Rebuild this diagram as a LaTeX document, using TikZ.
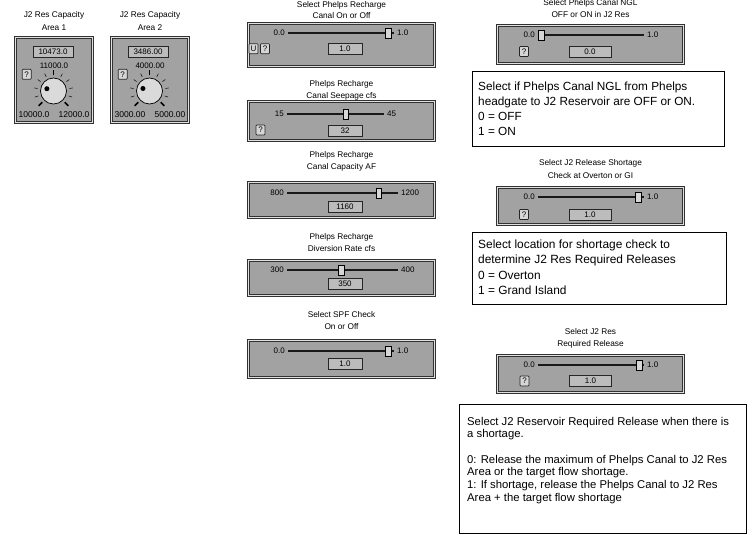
\documentclass[tikz,border=0pt]{standalone}
\usepackage{fontspec}
\setmainfont{Liberation Sans}
\usetikzlibrary{positioning,calc}
\definecolor{panelgray}{RGB}{162,162,162}
\definecolor{panelrim}{RGB}{50,50,50}
\definecolor{panellight}{RGB}{224,224,224}
\definecolor{valfill}{RGB}{188,188,188}
\definecolor{btnfill}{RGB}{214,214,214}
\definecolor{knobfill}{RGB}{218,218,218}

\begin{document}
\begin{tikzpicture}[x=1pt,y=-1pt]

    \tikzset{
      panel/.style={
        draw=panelrim,
        double=panellight,
        double distance=1.5pt,
        line width=0.8pt,
        fill=panelgray,
        inner sep=0pt,
        minimum width=186pt,
      },
      title/.style={font=\fontsize{8.3}{10}\selectfont, inner sep=0pt},
      lbl/.style={font=\fontsize{8}{10}\selectfont, inner xsep=3pt, inner ysep=0pt},
      valbox/.style={draw=black!85, line width=0.8pt, fill=valfill, minimum height=11pt, inner sep=0pt, font=\fontsize{8}{10}\selectfont},
      btn/.style={draw=black!85, line width=0.7pt, fill=btnfill, minimum width=9pt, minimum height=10pt, inner sep=0pt, rounded corners=0.8pt, font=\fontsize{8}{10}\selectfont},
      thumb/.style={draw=black, line width=0.6pt, fill=btnfill, minimum width=5.5pt, minimum height=10pt, inner sep=0pt},
      track/.style={line width=2pt, black!90},
      knob/.style={circle, draw=black, line width=0.7pt, fill=knobfill, minimum size=26pt, inner sep=0pt},
      knobdot/.style={circle, fill=black, minimum size=5pt, inner sep=0pt},
      tick/.style={line width=0.5pt},
      bigtick/.style={line width=1.6pt},
      textbox/.style={draw=black, line width=0.8pt, fill=white, inner sep=0pt, anchor=north west},
      boxtext/.style={align=left, inner sep=0pt, anchor=north west},
    }
    \fill[white] (0,0) rectangle (752,535);
    \useasboundingbox (0,0) rectangle (752,535);

	\node[title] (k1t1) at (54,15) {J2 Res Capacity};
	\node[title] (k1t2) at (54,28) {Area 1};
	\node[panel, minimum width=77pt, minimum height=85pt] (k1) at (54,80) {};
	\node[valbox, minimum width=40pt] (k1val) at (53,51.5) {10473.0};
	\node[lbl] (k1mid) at (54,66) {11000.0};
	\node[btn] (k1help) at (26.7,74.3) {?};
	\node[knob] (k1knob) at (53.5,91) {};
	\foreach \i [evaluate=\i as \a using -225+27*\i] in {0,...,10}
	  \draw[tick] ($(k1knob)+(\a:16)$) -- ($(k1knob)+(\a:19.5)$);
	\foreach \a in {-225,-90,45}
	  \draw[bigtick] ($(k1knob)+(\a:16)$) -- ($(k1knob)+(\a:21)$);
	\node[knobdot] (k1dot) at ($(k1knob)+(-161:7)$) {};
	\node[lbl, font=\fontsize{8.5}{10}\selectfont, inner xsep=0pt] (k1lo) at (34,114.5) {10000.0};
	\node[lbl, font=\fontsize{8.5}{10}\selectfont, inner xsep=0pt] (k1hi) at (74,114.5) {12000.0};

	\node[title] (k2t1) at (150,15) {J2 Res Capacity};
	\node[title] (k2t2) at (150,28) {Area 2};
	\node[panel, minimum width=77pt, minimum height=85pt] (k2) at (150,80) {};
	\node[valbox, minimum width=40pt] (k2val) at (148,51.5) {3486.00};
	\node[lbl] (k2mid) at (150,66) {4000.00};
	\node[btn] (k2help) at (122.7,74.3) {?};
	\node[knob] (k2knob) at (149.5,91) {};
	\foreach \i [evaluate=\i as \a using -225+27*\i] in {0,...,10}
	  \draw[tick] ($(k2knob)+(\a:16)$) -- ($(k2knob)+(\a:19.5)$);
	\foreach \a in {-225,-90,45}
	  \draw[bigtick] ($(k2knob)+(\a:16)$) -- ($(k2knob)+(\a:21)$);
	\node[knobdot] (k2dot) at ($(k2knob)+(-159:7)$) {};
	\node[lbl, font=\fontsize{8.5}{10}\selectfont, inner xsep=0pt] (k2lo) at (130,114.5) {3000.00};
	\node[lbl, font=\fontsize{8.5}{10}\selectfont, inner xsep=0pt] (k2hi) at (170,114.5) {5000.00};

	\node[title] (p1t1) at (341.5,5) {Select Phelps Recharge};
	\node[title] (p1t2) at (341.5,15.5) {Canal On or Off};
	\node[panel, minimum height=43pt] (p1) at (341.5,45) {};
	\node[lbl, anchor=east] (p1lo) at (288,33) {0.0};
	\node[lbl, anchor=west] (p1hi) at (394,33) {1.0};
	\draw[track] (p1lo) -- (p1hi);
	\node[thumb] (p1thumb) at (388.5,33) {};
	\node[btn] (p1u) at (253.5,48.7) {U};
	\node[btn] (p1help) at (265,48.7) {?};
	\node[valbox, minimum width=34pt] (p1val) at (345,49) {1.0};

	\node[title] (p2t1) at (341.5,84) {Phelps Recharge};
	\node[title] (p2t2) at (341.5,96) {Canal Seepage cfs};
	\node[panel, minimum height=39pt] (p2) at (341.5,121) {};
	\node[lbl, anchor=east] (p2lo) at (287,114) {15};
	\node[lbl, anchor=west] (p2hi) at (384,114) {45};
	\draw[track] (p2lo) -- (p2hi);
	\node[thumb] (p2thumb) at (346,114) {};
	\node[btn] (p2help) at (260.5,130) {?};
	\node[valbox, minimum width=34pt] (p2val) at (345,130.5) {32};

	\node[title] (p3t1) at (341.5,155) {Phelps Recharge};
	\node[title] (p3t2) at (341.5,167) {Canal Capacity AF};
	\node[panel, minimum height=35pt] (p3) at (341.5,200) {};
	\node[lbl, anchor=east] (p3lo) at (287,193) {800};
	\node[lbl, anchor=west] (p3hi) at (398,193) {1200};
	\draw[track] (p3lo) -- (p3hi);
	\node[thumb] (p3thumb) at (379,193) {};
	\node[valbox, minimum width=34pt] (p3val) at (345,206.5) {1160};

	\node[title] (p4t1) at (341.5,237) {Phelps Recharge};
	\node[title] (p4t2) at (341.5,249) {Diversion Rate cfs};
	\node[panel, minimum height=35pt] (p4) at (341.5,278) {};
	\node[lbl, anchor=east] (p4lo) at (287,270) {300};
	\node[lbl, anchor=west] (p4hi) at (398,270) {400};
	\draw[track] (p4lo) -- (p4hi);
	\node[thumb] (p4thumb) at (341.5,270) {};
	\node[valbox, minimum width=34pt] (p4val) at (345,283.5) {350};

	\node[title] (p5t1) at (341.5,315) {Select SPF Check};
	\node[title] (p5t2) at (341.5,327) {On or Off};
	\node[panel, minimum height=37pt] (p5) at (341.5,359) {};
	\node[lbl, anchor=east] (p5lo) at (288,351) {0.0};
	\node[lbl, anchor=west] (p5hi) at (394,351) {1.0};
	\draw[track] (p5lo) -- (p5hi);
	\node[thumb] (p5thumb) at (388.5,351) {};
	\node[valbox, minimum width=34pt] (p5val) at (345,363.5) {1.0};

	\node[title] (r1t1) at (590.5,3.5) {Select Phelps Canal NGL};
	\node[title] (r1t2) at (590.5,15) {OFF or ON in J2 Res};
	\node[panel, minimum height=38pt] (r1) at (590.5,44.5) {};
	\node[lbl, anchor=east] (r1lo) at (538,35) {0.0};
	\node[lbl, anchor=west] (r1hi) at (644,35) {1.0};
	\draw[track] (r1lo) -- (r1hi);
	\node[thumb] (r1thumb) at (541.5,35) {};
	\node[btn] (r1help) at (524,51.5) {?};
	\node[valbox, minimum width=42pt] (r1val) at (590,51.5) {0.0};

	\node[textbox, minimum width=252pt, minimum height=74pt] (ngl) at (471.5,71.5) {};
	\node[boxtext, font=\fontsize{11.8}{15}\selectfont] (ngltext) at (478,81.7) {Select if Phelps Canal NGL from Phelps\\headgate to J2 Reservoir are OFF or ON.\\0 = OFF\\1 = ON};

	\node[title] (r2t1) at (590.5,163) {Select J2 Release Shortage};
	\node[title] (r2t2) at (590.5,176) {Check at Overton or GI};
	\node[panel, minimum height=37pt] (r2) at (590.5,206) {};
	\node[lbl, anchor=east] (r2lo) at (538,197) {0.0};
	\node[lbl, anchor=west] (r2hi) at (644,197) {1.0};
	\draw[track] (r2lo) -- (r2hi);
	\node[thumb] (r2thumb) at (638.5,197) {};
	\node[btn] (r2help) at (524,214.5) {?};
	\node[valbox, minimum width=42pt] (r2val) at (590,214.5) {1.0};

	\node[textbox, minimum width=254pt, minimum height=72pt] (chk) at (471.5,231.5) {};
	\node[boxtext, font=\fontsize{11.9}{15.3}\selectfont] (chktext) at (478,239.7) {Select location for shortage check to\\determine J2 Res Required Releases\\0 = Overton\\1 = Grand Island};

	\node[title] (r3t1) at (590.5,332) {Select J2 Res};
	\node[title] (r3t2) at (590.5,344) {Required Release};
	\node[panel, minimum height=37pt] (r3) at (590.5,374) {};
	\node[lbl, anchor=east] (r3lo) at (538,365) {0.0};
	\node[lbl, anchor=west] (r3hi) at (644,365) {1.0};
	\draw[track] (r3lo) -- (r3hi);
	\node[thumb] (r3thumb) at (639.5,365) {};
	\node[btn] (r3help) at (524.5,381) {?};
	\node[valbox, minimum width=42pt] (r3val) at (590.5,380.5) {1.0};

	\node[textbox, minimum width=287pt, minimum height=129pt] (rel) at (458.5,403.5) {};
	\node[boxtext, font=\fontsize{11.3}{12.7}\selectfont] (reltext) at (467,416.8) {Select J2 Reservoir Required Release when there is\\a shortage.\\[12.7pt]0: Release the maximum of Phelps Canal to J2 Res\\Area or the target flow shortage.\\1: If shortage, release the Phelps Canal to J2 Res\\Area + the target flow shortage};

\end{tikzpicture}
\end{document}
